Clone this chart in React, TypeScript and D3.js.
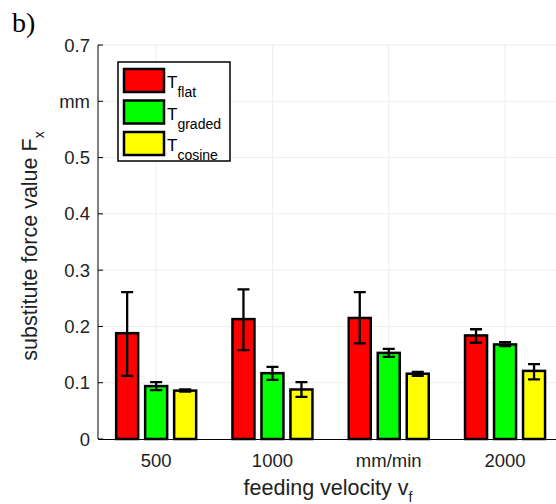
import React, { useEffect, useRef } from 'react';
import * as d3 from 'd3';

// categories on the x axis (third label was overwritten with the unit in the original figure)
const categories = ['500', '1000', 'mm/min', '2000'];
const seriesNames = ['flat', 'graded', 'cosine'];
const seriesColors = ['#ff0000', '#00ff00', '#ffff00'];

// bar heights
const flatValues = [0.188, 0.213, 0.215, 0.184];
const gradedValues = [0.094, 0.117, 0.153, 0.168];
const cosineValues = [0.086, 0.088, 0.116, 0.121];
// error bar ends
const flatLow = [0.112, 0.158, 0.17, 0.171];
const flatHigh = [0.261, 0.266, 0.261, 0.195];
const gradedLow = [0.087, 0.105, 0.146, 0.165];
const gradedHigh = [0.101, 0.128, 0.16, 0.172];
const cosineLow = [0.084, 0.075, 0.112, 0.106];
const cosineHigh = [0.088, 0.101, 0.119, 0.133];

const yTicks = [0, 0.1, 0.2, 0.3, 0.4, 0.5, 0.6, 0.7];
const yTickLabels = ['0', '0.1', '0.2', '0.3', '0.4', '0.5', 'mm', '0.7'];

const App = () => {
    const ref = useRef<SVGSVGElement>(null);

    const width = 556;
    const height = 504;
    const font = '"Liberation Sans", Arial, Helvetica, sans-serif';

    // plot frame
    const axis_x0 = 98;
    const axis_y0 = 439;
    const axis_top = 45;
    const group_step = 116.3;
    const bar_width = 22;
    const bar_offset = 29;

    useEffect(() => {
        const values = [flatValues, gradedValues, cosineValues];
        const lows = [flatLow, gradedLow, cosineLow];
        const highs = [flatHigh, gradedHigh, cosineHigh];

        const data = categories.flatMap((c, i) =>
            seriesNames.map((s, j) => ({
                cat: i + 1,
                series: s,
                color: seriesColors[j],
                value: values[j][i],
                low: lows[j][i],
                high: highs[j][i],
            }))
        );

        const svg = d3.select(ref.current);
        svg.selectAll('*').remove();

        const yScale = d3.scaleLinear().domain([0, 0.7]).range([axis_y0, axis_top]);
        const xScale = d3.scaleLinear()
            .domain([0.5, 4.5])
            .range([axis_x0, axis_x0 + 4 * group_step]);
        const subScale = d3.scalePoint<string>()
            .domain(seriesNames)
            .range([-bar_offset, bar_offset]);

        // faint grid
        const grid = svg.append('g').attr('stroke', '#ededed').attr('stroke-width', 1);
        grid.selectAll('.hgrid')
            .data(yTicks.slice(1))
            .enter().append('line')
            .attr('x1', axis_x0).attr('x2', width)
            .attr('y1', d => yScale(d)).attr('y2', d => yScale(d));
        grid.selectAll('.vgrid')
            .data(categories.map((c, i) => i + 1))
            .enter().append('line')
            .attr('x1', d => xScale(d)).attr('x2', d => xScale(d))
            .attr('y1', axis_top).attr('y2', axis_y0);

        // bars
        svg.selectAll('.bar')
            .data(data)
            .enter().append('rect')
            .attr('class', 'bar')
            .attr('x', d => xScale(d.cat) + (subScale(d.series) as number) - bar_width / 2)
            .attr('y', d => yScale(d.value))
            .attr('width', bar_width)
            .attr('height', d => axis_y0 - yScale(d.value))
            .attr('fill', d => d.color)
            .attr('stroke', '#000')
            .attr('stroke-width', 2.5);

        // error bars
        const err = svg.append('g').attr('stroke', '#000').attr('stroke-width', 2.3);
        const cx = (d: typeof data[number]) => xScale(d.cat) + (subScale(d.series) as number);
        err.selectAll('.err')
            .data(data)
            .enter().append('path')
            .attr('fill', 'none')
            .attr('d', d => {
                const x = cx(d);
                const y1 = yScale(d.low);
                const y2 = yScale(d.high);
                return `M${x - 6},${y1}H${x + 6}M${x},${y1}V${y2}M${x - 6},${y2}H${x + 6}`;
            });

        // axes
        svg.append('line')
            .attr('x1', axis_x0).attr('x2', axis_x0)
            .attr('y1', axis_top).attr('y2', axis_y0)
            .attr('stroke', '#000');
        svg.append('line')
            .attr('x1', axis_x0).attr('x2', width)
            .attr('y1', axis_y0 + 0.5).attr('y2', axis_y0 + 0.5)
            .attr('stroke', '#000');

        svg.selectAll('.ytick')
            .data(yTicks)
            .enter().append('line')
            .attr('x1', axis_x0).attr('x2', axis_x0 + 5)
            .attr('y1', d => yScale(d)).attr('y2', d => yScale(d))
            .attr('stroke', '#000');

        svg.selectAll('.ylabel')
            .data(yTicks)
            .enter().append('text')
            .attr('x', 90)
            .attr('y', d => yScale(d) + 6.5)
            .attr('text-anchor', 'end')
            .style('font-family', font)
            .style('font-size', '18.5px')
            .attr('fill', '#222')
            .text((d, i) => yTickLabels[i]);

        svg.selectAll('.xlabel')
            .data(categories)
            .enter().append('text')
            .attr('x', (d, i) => xScale(i + 1))
            .attr('y', 467)
            .attr('text-anchor', 'middle')
            .style('font-family', font)
            .style('font-size', '18.5px')
            .attr('fill', '#222')
            .text(d => d);

        // axis titles
        const xTitle = svg.append('text')
            .attr('x', 328)
            .attr('y', 495)
            .attr('text-anchor', 'middle')
            .style('font-family', font)
            .style('font-size', '21.5px')
            .attr('fill', '#222');
        xTitle.append('tspan').text('feeding velocity v');
        xTitle.append('tspan').attr('dy', 7).style('font-size', '14px').text('f');

        const yTitle = svg.append('text')
            .attr('transform', `translate(37, 246) rotate(-90)`)
            .attr('text-anchor', 'middle')
            .style('font-family', font)
            .style('font-size', '21.5px')
            .attr('fill', '#222');
        yTitle.append('tspan').text('substitute force value F');
        yTitle.append('tspan').attr('dy', 7).style('font-size', '14px').text('x');

        // panel label
        svg.append('text')
            .attr('x', 12)
            .attr('y', 32)
            .style('font-family', '"Liberation Serif", "Times New Roman", serif')
            .style('font-size', '28px')
            .attr('fill', '#000')
            .text('b)');

        // legend
        const legend = svg.append('g').attr('transform', 'translate(118, 62)');
        legend.append('rect')
            .attr('width', 112).attr('height', 99)
            .attr('fill', '#fff').attr('stroke', '#000').attr('stroke-width', 1.5);
        const items = legend.selectAll('.legend')
            .data(seriesNames)
            .enter().append('g')
            .attr('transform', (d, i) => `translate(6, ${7 + i * 31.5})`);
        items.append('rect')
            .attr('width', 40).attr('height', 23)
            .attr('fill', (d, i) => seriesColors[i])
            .attr('stroke', '#000').attr('stroke-width', 2.5);
        const lt = items.append('text')
            .attr('x', 43).attr('y', 19)
            .style('font-family', font)
            .style('font-size', '17px')
            .attr('fill', '#000');
        lt.append('tspan').text('T');
        lt.append('tspan').attr('dy', 9).style('font-size', '14px').text(d => d);
    }, []);

    return (
        <svg
            ref={ref}
            width={width}
            height={height}
            style={{ position: 'absolute', left: 0, top: 0, background: '#fff' }}
        />
    );
};

export default App;
